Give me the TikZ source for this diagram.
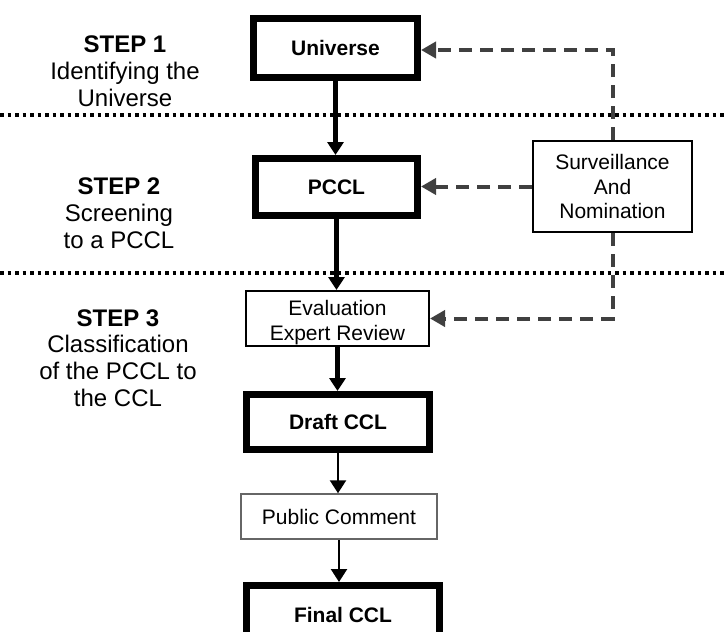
\documentclass[tikz,border=0pt]{standalone}
\usepackage{fontspec}
\setmainfont{Liberation Sans}
\usetikzlibrary{arrows.meta}
\begin{document}
\begin{tikzpicture}[x=1pt,y=-1pt,
  thickbox/.style={draw=black, line width=7pt, font=\fontsize{21}{25}\selectfont\bfseries, inner sep=0pt},
  thinbox/.style={draw=black, line width=2pt, font=\fontsize{21}{24.5}\selectfont, align=center, inner sep=0pt},
  steptext/.style={font=\fontsize{24}{26.8}\selectfont, align=center, inner sep=0pt},
  flow/.style={line width=4.5pt, -{Triangle[length=13pt,width=16pt]}},
  flowthin/.style={line width=2.5pt, -{Triangle[length=13pt,width=16pt]}},
  feed/.style={draw=black!75, line width=4pt, dash pattern=on 13pt off 8pt, -{Triangle[length=15pt,width=16pt]}},
  sepline/.style={line width=3.5pt, dash pattern=on 3.5pt off 4pt},
]
\useasboundingbox (0,0) rectangle (724,632);
\clip (0,0) rectangle (724,632);

% separators
\coordinate (l1a) at (0,115);
\coordinate (l1b) at (724,115);
\coordinate (l2a) at (0,273);
\coordinate (l2b) at (724,273);
\draw[sepline] (l1a) -- (l1b);
\draw[sepline] (l2a) -- (l2b);

% step labels
\node[steptext] (s1) at (125,71) {\textbf{STEP 1}\\Identifying the\\Universe};
\node[steptext] (s2) at (119,213) {\textbf{STEP 2}\\Screening\\to a PCCL};
\node[steptext] (s3) at (118,358) {\textbf{STEP 3}\\Classification\\of the PCCL to\\the CCL};

% boxes
\node[thickbox, minimum width=164pt, minimum height=59pt] (uni) at (335.5,48) {Universe};
\node[thickbox, minimum width=162pt, minimum height=57pt] (pccl) at (336.5,187) {PCCL};
\node[thinbox, fill=white, minimum width=183pt, minimum height=55pt] (eval) at (337.5,318.5) {\rule{0pt}{23pt}Evaluation\\Expert Review};
\node[thickbox, minimum width=183pt, minimum height=55pt] (draft) at (338,422) {Draft CCL};
\node[thinbox, draw=black!60, line width=1.5pt, minimum width=196pt, minimum height=45pt] (pub) at (339,516.5) {Public Comment};
\node[thickbox, minimum width=193pt, minimum height=59pt] (final) at (343,615) {Final CCL};
\node[thinbox, fill=white, minimum width=159pt, minimum height=91pt] (sv) at (612.5,186.5) {Surveillance\\And\\Nomination};

% main flow
\draw[flow] (uni.south) -- (uni.south |- pccl.north);
\draw[flow] (pccl.south) -- (pccl.south |- eval.north);
\draw[flow] (eval.south) -- (eval.south |- draft.north);
\draw[flowthin] (draft.south) -- (draft.south |- pub.north);
\draw[flowthin] (pub.south) -- (pub.south |- final.north);

% feedback
\draw[feed] (sv.north) -- (sv.north |- 0,50) -- (uni.east |- 0,50);
\draw[feed] (sv.west) -- (sv.west -| pccl.east);
\draw[feed] (sv.south) -- (sv.south |- eval.east) -- (eval.east);
\end{tikzpicture}
\end{document}
